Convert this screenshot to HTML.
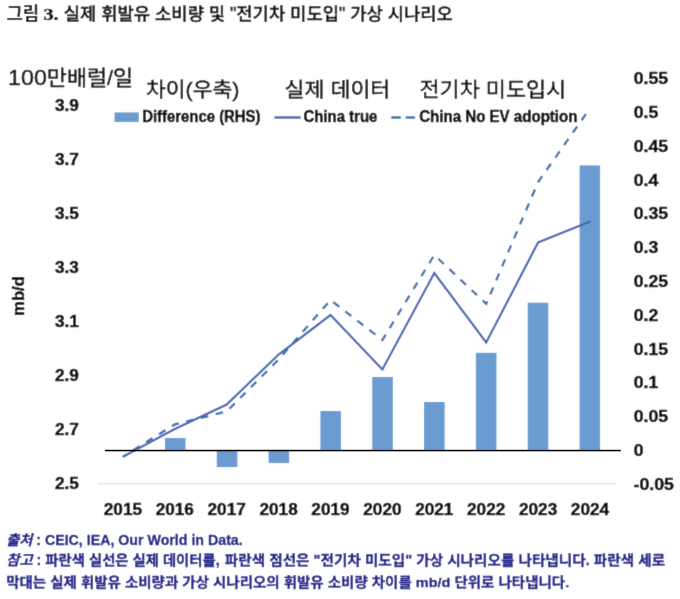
<!DOCTYPE html>
<html lang="ko"><head><meta charset="utf-8"><title>그림 3</title>
<style>html,body{margin:0;padding:0;background:#fff}svg{display:block}text{white-space:pre}</style>
</head><body>
<svg width="680" height="599" viewBox="0 0 680 599">
<defs><filter id="soft" x="0" y="0" width="680" height="599" filterUnits="userSpaceOnUse"><feConvolveMatrix order="3" kernelMatrix="0.02 0.07 0.02 0.07 0.64 0.07 0.02 0.07 0.02" edgeMode="duplicate" preserveAlpha="false"/></filter></defs>
<g filter="url(#soft)">
<rect width="680" height="599" fill="#fff"/>
<line id="grid" x1="97.5" y1="483.8" x2="616" y2="483.8" stroke="#d9d9d9" stroke-width="1"/>
<g id="bars" fill="#6a9bd1"><rect x="164.93" y="438.00" width="20.6" height="12.20"/><rect x="216.75" y="450.20" width="20.6" height="16.90"/><rect x="268.57" y="450.20" width="20.6" height="12.90"/><rect x="320.40" y="411.00" width="20.6" height="39.20"/><rect x="372.22" y="377.00" width="20.6" height="73.20"/><rect x="424.05" y="402.00" width="20.6" height="48.20"/><rect x="475.88" y="352.80" width="20.6" height="97.40"/><rect x="527.70" y="302.70" width="20.6" height="147.50"/><rect x="579.53" y="165.40" width="20.6" height="284.80"/></g>
<polyline id="solid" points="122.9,456.75 174.8,429.0 226.7,404.5 278.6,354.5 330.5,315.0 382.4,369.5 434.3,273.0 486.2,342.5 538.1,242.4 590.8,221.3" fill="none" stroke="#4668b4" stroke-width="2.2" stroke-linejoin="miter"/>
<polyline id="dashed" points="122.9,456.75 174.8,424.4 226.7,411.5 278.6,359.5 330.5,300.0 382.4,340.0 434.3,255.0 486.2,303.8 538.1,182.0 586.6,113.1" fill="none" stroke="#4171ab" stroke-width="2.3" stroke-dasharray="7.6 7.6" stroke-dashoffset="3.1" stroke-linejoin="miter"/>
<rect id="lg1" x="114.5" y="112.4" width="24.3" height="9.6" fill="#6a9bd1"/>
<line id="lg2" x1="274.4" y1="117.5" x2="300.8" y2="117.5" stroke="#4668b4" stroke-width="2.4"/>
<line id="lg3" x1="391.3" y1="117.5" x2="415.2" y2="117.5" stroke="#4171ab" stroke-width="2.4" stroke-dasharray="9.5 4.8"/>
<text id="t1" x="6.4" y="19.9" font-size="17.8" font-weight="700" fill="#000" font-family="'Liberation Sans','Noto Sans CJK KR',sans-serif" text-anchor="start" textLength="32.8" lengthAdjust="spacingAndGlyphs" >그림</text>
<text id="t2" x="43.4" y="20.0" font-size="16" font-weight="700" fill="#000" font-family="'Liberation Serif',serif" text-anchor="start" textLength="15.2" lengthAdjust="spacingAndGlyphs" stroke="#000" stroke-width="0.35">3.</text>
<text id="t3" x="63.8" y="19.9" font-size="17.5" font-weight="500" fill="#000" font-family="'Liberation Sans','Noto Sans CJK KR',sans-serif" text-anchor="start" textLength="389" lengthAdjust="spacingAndGlyphs" stroke="#000" stroke-width="0.35">실제 휘발유 소비량 및 "전기차 미도입" 가상 시나리오</text>
<text id="unit" x="8" y="85.3" font-size="21" font-weight="400" fill="#000" font-family="'Liberation Sans','Noto Sans CJK KR',sans-serif" text-anchor="start" textLength="125.2" lengthAdjust="spacingAndGlyphs"  stroke="#000" stroke-width="0.4" stroke-linejoin="round"><tspan font-size="22.4">100</tspan>만배럴/일</text>
<text id="k1" x="146" y="97" font-size="20.8" font-weight="400" fill="#000" font-family="'Liberation Sans','Noto Sans CJK KR',sans-serif" text-anchor="start" textLength="93.5" lengthAdjust="spacingAndGlyphs"  stroke="#000" stroke-width="0.4" stroke-linejoin="round">차이(우축)</text>
<text id="k2" x="284.5" y="97" font-size="20.8" font-weight="400" fill="#000" font-family="'Liberation Sans','Noto Sans CJK KR',sans-serif" text-anchor="start" textLength="105.8" lengthAdjust="spacingAndGlyphs"  stroke="#000" stroke-width="0.4" stroke-linejoin="round">실제 데이터</text>
<text id="k3" x="419.5" y="97" font-size="20.8" font-weight="400" fill="#000" font-family="'Liberation Sans','Noto Sans CJK KR',sans-serif" text-anchor="start" textLength="146.7" lengthAdjust="spacingAndGlyphs"  stroke="#000" stroke-width="0.4" stroke-linejoin="round">전기차 미도입시</text>
<text id="l1" x="142.2" y="122.45" font-size="15.7" font-weight="700" fill="#000" font-family="'Liberation Sans','Noto Sans CJK KR',sans-serif" text-anchor="start" textLength="118.3" lengthAdjust="spacingAndGlyphs"  stroke="#000" stroke-width="0.45" stroke-linejoin="round">Difference (RHS)</text>
<text id="l2" x="303.4" y="122.45" font-size="15.7" font-weight="700" fill="#000" font-family="'Liberation Sans','Noto Sans CJK KR',sans-serif" text-anchor="start" textLength="74" lengthAdjust="spacingAndGlyphs"  stroke="#000" stroke-width="0.45" stroke-linejoin="round">China true</text>
<text id="l3" x="419.2" y="122.45" font-size="15.7" font-weight="700" fill="#000" font-family="'Liberation Sans','Noto Sans CJK KR',sans-serif" text-anchor="start" textLength="158.3" lengthAdjust="spacingAndGlyphs"  stroke="#000" stroke-width="0.45" stroke-linejoin="round">China No EV adoption</text>
<text id="ly0" x="54.9" y="110.95" font-size="17.3" font-weight="700" fill="#000" font-family="'Liberation Sans','Noto Sans CJK KR',sans-serif" text-anchor="start" textLength="24.0" lengthAdjust="spacingAndGlyphs"  stroke="#000" stroke-width="0.45" stroke-linejoin="round">3.9</text>
<text id="ly1" x="54.9" y="164.97" font-size="17.3" font-weight="700" fill="#000" font-family="'Liberation Sans','Noto Sans CJK KR',sans-serif" text-anchor="start" textLength="24.0" lengthAdjust="spacingAndGlyphs"  stroke="#000" stroke-width="0.45" stroke-linejoin="round">3.7</text>
<text id="ly2" x="54.9" y="218.99" font-size="17.3" font-weight="700" fill="#000" font-family="'Liberation Sans','Noto Sans CJK KR',sans-serif" text-anchor="start" textLength="24.0" lengthAdjust="spacingAndGlyphs"  stroke="#000" stroke-width="0.45" stroke-linejoin="round">3.5</text>
<text id="ly3" x="54.9" y="273.01" font-size="17.3" font-weight="700" fill="#000" font-family="'Liberation Sans','Noto Sans CJK KR',sans-serif" text-anchor="start" textLength="24.0" lengthAdjust="spacingAndGlyphs"  stroke="#000" stroke-width="0.45" stroke-linejoin="round">3.3</text>
<text id="ly4" x="54.9" y="327.03" font-size="17.3" font-weight="700" fill="#000" font-family="'Liberation Sans','Noto Sans CJK KR',sans-serif" text-anchor="start" textLength="24.0" lengthAdjust="spacingAndGlyphs"  stroke="#000" stroke-width="0.45" stroke-linejoin="round">3.1</text>
<text id="ly5" x="54.9" y="381.05" font-size="17.3" font-weight="700" fill="#000" font-family="'Liberation Sans','Noto Sans CJK KR',sans-serif" text-anchor="start" textLength="24.0" lengthAdjust="spacingAndGlyphs"  stroke="#000" stroke-width="0.45" stroke-linejoin="round">2.9</text>
<text id="ly6" x="54.9" y="435.07" font-size="17.3" font-weight="700" fill="#000" font-family="'Liberation Sans','Noto Sans CJK KR',sans-serif" text-anchor="start" textLength="24.0" lengthAdjust="spacingAndGlyphs"  stroke="#000" stroke-width="0.45" stroke-linejoin="round">2.7</text>
<text id="ly7" x="54.9" y="489.09" font-size="17.3" font-weight="700" fill="#000" font-family="'Liberation Sans','Noto Sans CJK KR',sans-serif" text-anchor="start" textLength="24.0" lengthAdjust="spacingAndGlyphs"  stroke="#000" stroke-width="0.45" stroke-linejoin="round">2.5</text>
<text id="ry0" x="633.7" y="84.3" font-size="17.3" font-weight="700" fill="#000" font-family="'Liberation Sans','Noto Sans CJK KR',sans-serif" text-anchor="start" textLength="34.4" lengthAdjust="spacingAndGlyphs"  stroke="#000" stroke-width="0.45" stroke-linejoin="round">0.55</text>
<text id="ry1" x="633.7" y="118.09" font-size="17.3" font-weight="700" fill="#000" font-family="'Liberation Sans','Noto Sans CJK KR',sans-serif" text-anchor="start" textLength="24.6" lengthAdjust="spacingAndGlyphs"  stroke="#000" stroke-width="0.45" stroke-linejoin="round">0.5</text>
<text id="ry2" x="633.7" y="151.88" font-size="17.3" font-weight="700" fill="#000" font-family="'Liberation Sans','Noto Sans CJK KR',sans-serif" text-anchor="start" textLength="34.4" lengthAdjust="spacingAndGlyphs"  stroke="#000" stroke-width="0.45" stroke-linejoin="round">0.45</text>
<text id="ry3" x="633.7" y="185.67" font-size="17.3" font-weight="700" fill="#000" font-family="'Liberation Sans','Noto Sans CJK KR',sans-serif" text-anchor="start" textLength="24.6" lengthAdjust="spacingAndGlyphs"  stroke="#000" stroke-width="0.45" stroke-linejoin="round">0.4</text>
<text id="ry4" x="633.7" y="219.46" font-size="17.3" font-weight="700" fill="#000" font-family="'Liberation Sans','Noto Sans CJK KR',sans-serif" text-anchor="start" textLength="34.4" lengthAdjust="spacingAndGlyphs"  stroke="#000" stroke-width="0.45" stroke-linejoin="round">0.35</text>
<text id="ry5" x="633.7" y="253.25" font-size="17.3" font-weight="700" fill="#000" font-family="'Liberation Sans','Noto Sans CJK KR',sans-serif" text-anchor="start" textLength="24.6" lengthAdjust="spacingAndGlyphs"  stroke="#000" stroke-width="0.45" stroke-linejoin="round">0.3</text>
<text id="ry6" x="633.7" y="287.04" font-size="17.3" font-weight="700" fill="#000" font-family="'Liberation Sans','Noto Sans CJK KR',sans-serif" text-anchor="start" textLength="34.4" lengthAdjust="spacingAndGlyphs"  stroke="#000" stroke-width="0.45" stroke-linejoin="round">0.25</text>
<text id="ry7" x="633.7" y="320.83" font-size="17.3" font-weight="700" fill="#000" font-family="'Liberation Sans','Noto Sans CJK KR',sans-serif" text-anchor="start" textLength="24.6" lengthAdjust="spacingAndGlyphs"  stroke="#000" stroke-width="0.45" stroke-linejoin="round">0.2</text>
<text id="ry8" x="633.7" y="354.62" font-size="17.3" font-weight="700" fill="#000" font-family="'Liberation Sans','Noto Sans CJK KR',sans-serif" text-anchor="start" textLength="34.4" lengthAdjust="spacingAndGlyphs"  stroke="#000" stroke-width="0.45" stroke-linejoin="round">0.15</text>
<text id="ry9" x="633.7" y="388.41" font-size="17.3" font-weight="700" fill="#000" font-family="'Liberation Sans','Noto Sans CJK KR',sans-serif" text-anchor="start" textLength="24.6" lengthAdjust="spacingAndGlyphs"  stroke="#000" stroke-width="0.45" stroke-linejoin="round">0.1</text>
<text id="ry10" x="633.7" y="422.2" font-size="17.3" font-weight="700" fill="#000" font-family="'Liberation Sans','Noto Sans CJK KR',sans-serif" text-anchor="start" textLength="34.4" lengthAdjust="spacingAndGlyphs"  stroke="#000" stroke-width="0.45" stroke-linejoin="round">0.05</text>
<text id="ry11" x="633.7" y="455.99" font-size="17.3" font-weight="700" fill="#000" font-family="'Liberation Sans','Noto Sans CJK KR',sans-serif" text-anchor="start" textLength="9.8" lengthAdjust="spacingAndGlyphs"  stroke="#000" stroke-width="0.45" stroke-linejoin="round">0</text>
<text id="ry12" x="633.5" y="489.78" font-size="17.3" font-weight="700" fill="#000" font-family="'Liberation Sans','Noto Sans CJK KR',sans-serif" text-anchor="start" textLength="40.5" lengthAdjust="spacingAndGlyphs"  stroke="#000" stroke-width="0.45" stroke-linejoin="round">-0.05</text>
<text id="xl0" x="122.9" y="514.7" font-size="17.3" font-weight="700" fill="#000" font-family="'Liberation Sans','Noto Sans CJK KR',sans-serif" text-anchor="middle" textLength="38.3" lengthAdjust="spacingAndGlyphs"  stroke="#000" stroke-width="0.45" stroke-linejoin="round">2015</text>
<text id="xl1" x="174.8" y="514.7" font-size="17.3" font-weight="700" fill="#000" font-family="'Liberation Sans','Noto Sans CJK KR',sans-serif" text-anchor="middle" textLength="38.3" lengthAdjust="spacingAndGlyphs"  stroke="#000" stroke-width="0.45" stroke-linejoin="round">2016</text>
<text id="xl2" x="226.7" y="514.7" font-size="17.3" font-weight="700" fill="#000" font-family="'Liberation Sans','Noto Sans CJK KR',sans-serif" text-anchor="middle" textLength="38.3" lengthAdjust="spacingAndGlyphs"  stroke="#000" stroke-width="0.45" stroke-linejoin="round">2017</text>
<text id="xl3" x="278.6" y="514.7" font-size="17.3" font-weight="700" fill="#000" font-family="'Liberation Sans','Noto Sans CJK KR',sans-serif" text-anchor="middle" textLength="38.3" lengthAdjust="spacingAndGlyphs"  stroke="#000" stroke-width="0.45" stroke-linejoin="round">2018</text>
<text id="xl4" x="330.5" y="514.7" font-size="17.3" font-weight="700" fill="#000" font-family="'Liberation Sans','Noto Sans CJK KR',sans-serif" text-anchor="middle" textLength="38.3" lengthAdjust="spacingAndGlyphs"  stroke="#000" stroke-width="0.45" stroke-linejoin="round">2019</text>
<text id="xl5" x="382.4" y="514.7" font-size="17.3" font-weight="700" fill="#000" font-family="'Liberation Sans','Noto Sans CJK KR',sans-serif" text-anchor="middle" textLength="38.3" lengthAdjust="spacingAndGlyphs"  stroke="#000" stroke-width="0.45" stroke-linejoin="round">2020</text>
<text id="xl6" x="434.3" y="514.7" font-size="17.3" font-weight="700" fill="#000" font-family="'Liberation Sans','Noto Sans CJK KR',sans-serif" text-anchor="middle" textLength="38.3" lengthAdjust="spacingAndGlyphs"  stroke="#000" stroke-width="0.45" stroke-linejoin="round">2021</text>
<text id="xl7" x="486.2" y="514.7" font-size="17.3" font-weight="700" fill="#000" font-family="'Liberation Sans','Noto Sans CJK KR',sans-serif" text-anchor="middle" textLength="38.3" lengthAdjust="spacingAndGlyphs"  stroke="#000" stroke-width="0.45" stroke-linejoin="round">2022</text>
<text id="xl8" x="538.1" y="514.7" font-size="17.3" font-weight="700" fill="#000" font-family="'Liberation Sans','Noto Sans CJK KR',sans-serif" text-anchor="middle" textLength="38.3" lengthAdjust="spacingAndGlyphs"  stroke="#000" stroke-width="0.45" stroke-linejoin="round">2023</text>
<text id="xl9" x="590.0" y="514.7" font-size="17.3" font-weight="700" fill="#000" font-family="'Liberation Sans','Noto Sans CJK KR',sans-serif" text-anchor="middle" textLength="38.3" lengthAdjust="spacingAndGlyphs"  stroke="#000" stroke-width="0.45" stroke-linejoin="round">2024</text>
<text id="mbd" x="0" y="0" font-size="16.2" font-weight="700" fill="#000" font-family="'Liberation Sans','Noto Sans CJK KR',sans-serif" text-anchor="start" textLength="39.8" lengthAdjust="spacingAndGlyphs" transform="translate(23.7 315.9) rotate(-90)" stroke="#000" stroke-width="0.45" stroke-linejoin="round">mb/d</text>
<text id="f1" x="6.2" y="544.9" font-size="14.2" font-weight="700" fill="#18188a" font-family="'Liberation Sans','Noto Sans CJK KR',sans-serif" text-anchor="start" textLength="236.5" lengthAdjust="spacingAndGlyphs"  stroke="#18188a" stroke-width="0.3" stroke-linejoin="round"><tspan font-style="italic">출처</tspan> : CEIC, IEA, Our World in Data.</text>
<text id="f2a" x="6.2" y="565.3" font-size="14.2" font-weight="700" fill="#18188a" font-family="'Liberation Sans','Noto Sans CJK KR',sans-serif" text-anchor="start" textLength="213.5" lengthAdjust="spacingAndGlyphs"  stroke="#18188a" stroke-width="0.3" stroke-linejoin="round"><tspan font-style="italic">참고</tspan> : 파란색 실선은 실제 데이터를,</text>
<text id="f2b" x="224.8" y="565.3" font-size="14.2" font-weight="700" fill="#18188a" font-family="'Liberation Sans','Noto Sans CJK KR',sans-serif" text-anchor="start" textLength="440.3" lengthAdjust="spacingAndGlyphs"  stroke="#18188a" stroke-width="0.3" stroke-linejoin="round">파란색 점선은 "전기차 미도입" 가상 시나리오를 나타냅니다. 파란색 세로</text>
<text id="f3" x="6.2" y="587.3" font-size="13.4" font-weight="700" fill="#18188a" font-family="'Liberation Sans','Noto Sans CJK KR',sans-serif" text-anchor="start" textLength="563" lengthAdjust="spacingAndGlyphs"  stroke="#18188a" stroke-width="0.3" stroke-linejoin="round">막대는 실제 휘발유 소비량과 가상 시나리오의 휘발유 소비량 차이를 mb/d 단위로 나타냅니다.</text>
</g>
<rect id="zero" x="105" y="449.8" width="515.8" height="1.5" fill="#000"/>
</svg>
</body></html>
